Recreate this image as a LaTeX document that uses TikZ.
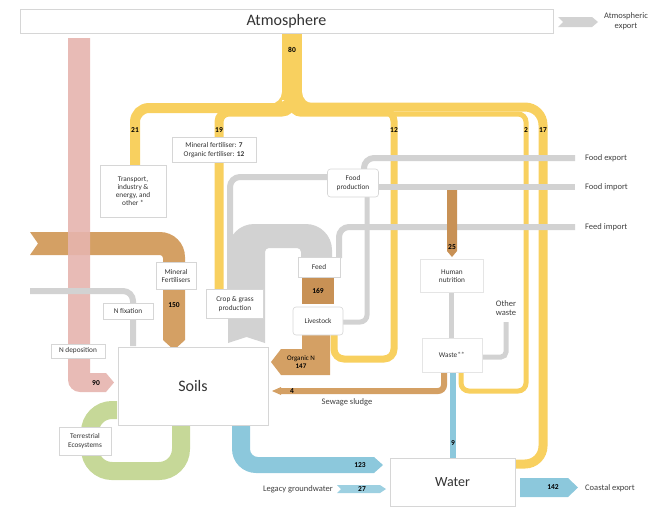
\documentclass[tikz,border=0pt]{standalone}
\usepackage{fontspec}
\setmainfont{Carlito}
\definecolor{yellowc}{RGB}{248,208,95}
\definecolor{brownc}{RGB}{212,160,100}
\definecolor{browndk}{RGB}{200,145,85}
\definecolor{pinkc}{RGB}{230,180,174}
\definecolor{grayc}{RGB}{210,210,210}
\definecolor{bluec}{RGB}{140,200,220}
\definecolor{greenc}{RGB}{198,216,152}
\begin{document}
\begin{tikzpicture}[x=1pt,y=-1pt,
  box/.style={draw=black!16, fill=white, line width=0.6pt, font=\fontsize{7.3}{8.2}\selectfont, align=center, inner sep=1.5pt, text=black!80},
  num/.style={font=\bfseries\fontsize{7.5}{8}\selectfont, inner sep=0.5pt},
  lbl/.style={font=\fontsize{8.5}{9.5}\selectfont, align=center, text=black!75, inner sep=1pt},
]
\useasboundingbox (0,0) rectangle (659,507);

% ---------- yellow (atmosphere exchanges)
\fill[yellowc] (282,33) rectangle (302,100);
\fill[yellowc] (282,92) arc[start angle=0,end angle=90,radius=12] -- (282,104) -- cycle;
\fill[yellowc] (302,92) arc[start angle=180,end angle=90,radius=12] -- (302,104) -- cycle;
\draw[yellowc, line width=10, rounded corners=14] (292,60) -- (292,108) -- (135,108) -- (135,168);
\draw[yellowc, line width=9, rounded corners=10] (292,60) -- (292,112) -- (219,112) -- (219,291);
\draw[yellowc, line width=7, rounded corners=10] (292,60) -- (292,111) -- (394,111) -- (394,359) -- (334,359) -- (334,335);
\draw[yellowc, line width=5, rounded corners=8] (292,60) -- (292,114) -- (526,114) -- (526,391) -- (461,391) -- (461,372);
\draw[yellowc, line width=9, rounded corners=18] (292,60) -- (292,107) -- (543,107) -- (543,464) -- (515,464);

% ---------- brown (mineral fertilisers)
\fill[brownc] (30,232) -- (160,232) arc[start angle=270,end angle=360,radius=25] -- (185,340) -- (174,350) -- (163,340) -- (163,258) arc[start angle=0,end angle=-90,radius=3] -- (30,255) -- (38,243.5) -- cycle;

% ---------- pink (N deposition)
\fill[pinkc, opacity=0.9] (68,38) -- (90,38) -- (90,373) -- (106,373) -- (114,382.5) -- (106,392) {[rounded corners=12] -- (68,392) -- (68,360)} -- cycle;

% ---------- gray flows
\draw[grayc, line width=6, rounded corners=10] (30,291) -- (133,291) -- (133,346);
\draw[grayc, line width=6, rounded corners=10] (230,292) -- (230,177) -- (328,177);
\fill[grayc] (228,343) -- (228,250) arc[start angle=180,end angle=270,radius=26] -- (306,224) arc[start angle=270,end angle=360,radius=26] -- (332,258) -- (301,258) -- (301,252) arc[start angle=0,end angle=-90,radius=4] -- (269,248) arc[start angle=270,end angle=180,radius=4] -- (265,343) -- (246.5,337) -- cycle;
\draw[grayc, line width=6, rounded corners=10] (339,258) -- (339,227) -- (575,227);
\draw[grayc, line width=6] (378,187) -- (575,187);
\draw[grayc, line width=6, rounded corners=10] (575,158) -- (364,158) -- (364,171);
\draw[grayc, line width=5, rounded corners=7] (367,197) -- (367,322) -- (343,322);
\draw[grayc, line width=5] (451,293) -- (451,338);
\draw[grayc, line width=5, rounded corners=5] (506,322) -- (506,357) -- (482,357);
\fill[grayc] (558,17) -- (592,17) -- (598,22) -- (592,27) -- (558,27) -- (563,22) -- cycle;

% ---------- brown food flows
\fill[browndk] (447,190) -- (457,190) -- (457,251) -- (452,257) -- (447,251) -- cycle;
\fill[browndk] (302,278) rectangle (334,304);
\fill[brownc] (302,334) -- (330,334) -- (330,375) -- (281,375) -- (271,362) -- (281,349) -- (302,349) -- cycle;
\draw[brownc, line width=6, rounded corners=6] (444,372) -- (444,391) -- (280,391);
\fill[brownc] (281,387) -- (272,391) -- (281,395) -- cycle;

% ---------- green (terrestrial ecosystems)
\draw[greenc, line width=18, rounded corners=22] (117,410) -- (90,410) -- (90,471) -- (181,471) -- (181,424);

% ---------- blue (water)
\fill[bluec] (232,425) -- (250,425) -- (250,449) arc[start angle=180,end angle=90,radius=8] -- (374,457) -- (383,465) -- (374,473) -- (256,473) arc[start angle=90,end angle=180,radius=24] -- cycle;
\draw[bluec, line width=6] (453,372) -- (453,458);
\fill[bluec!85] (337,485) -- (380,485) -- (386,489) -- (380,493) -- (337,493) -- (341,489) -- cycle;
\fill[bluec] (520,478) -- (568,478) -- (578,487.5) -- (568,497) -- (520,497) -- cycle;

% ---------- boxes
\node[box, minimum width=533pt, minimum height=24pt, font=\fontsize{16}{17}\selectfont] (atm) at (286.5,21) {Atmosphere};
\node[box, minimum width=150pt, minimum height=78pt, font=\fontsize{16}{17}\selectfont] (soils) at (193,386) {Soils};
\node[box, minimum width=125pt, minimum height=48pt, font=\fontsize{14}{15}\selectfont] (water) at (452.5,482) {Water};
\node[box, minimum width=66pt, minimum height=52pt] (transport) at (133,191) {Transport,\\industry \&\\energy, and\\other *};
\node[box, minimum width=84pt, minimum height=25pt] (fert) at (214,150) {Mineral fertiliser: \textbf{7}\\Organic fertiliser: \textbf{12}};
\node[box, minimum width=40pt, minimum height=27pt, inner sep=1pt] (minfert) at (176,276) {Mineral\\Fertilisers};
\node[box, minimum width=50pt, minimum height=16pt] (nfix) at (128,311) {N fixation};
\node[box, minimum width=54pt, minimum height=14pt] (ndep) at (78,351) {N deposition};
\node[box, minimum width=57pt, minimum height=29pt] (crop) at (235,304) {Crop \& grass\\production};
\node[box, minimum width=51pt, minimum height=28pt, rounded corners=3pt] (foodprod) at (353,183) {Food\\production};
\node[box, minimum width=42pt, minimum height=20pt] (feed) at (319,267) {Feed};
\node[box, minimum width=50pt, minimum height=28pt, rounded corners=3pt] (livestock) at (318,321) {Livestock};
\node[box, minimum width=63pt, minimum height=33pt, draw=black!10] (human) at (452,276) {Human\\nutrition};
\node[box, minimum width=60pt, minimum height=34pt, draw=black!10] (waste) at (452,355) {Waste$^{**}$};
\node[box, minimum width=52pt, minimum height=28pt] (terr) at (85,441) {Terrestrial\\Ecosystems};

% ---------- numbers
\node[num] (n80) at (292,50) {80};
\node[num] (n21) at (135,130) {21};
\node[num] (n19) at (219,130) {19};
\node[num] (n12) at (394,130) {12};
\node[num] (n2) at (526,130) {2};
\node[num] (n17) at (543,130) {17};
\node[num] (n150) at (174,305) {150};
\node[num] (n169) at (318,291) {169};
\node[num] (n25) at (452,247) {25};
\node[num] (n90) at (96,383) {90};
\node[num] (n4) at (292,391) {4};
\node[num] (n9) at (453,443) {9};
\node[num] (n123) at (360,465) {123};
\node[num] (n27) at (362,489) {27};
\node[num] (n142) at (553,487.5) {142};
\node[font=\fontsize{7}{7.8}\selectfont, align=center, inner sep=0pt] (orgn) at (301,362) {Organic N\\\textbf{147}};

% ---------- free labels
\node[lbl] (atmexp) at (626,21) {Atmospheric\\export};
\node[lbl, anchor=west] (foodexp) at (584,158) {Food export};
\node[lbl, anchor=west] (foodimp) at (584,187) {Food import};
\node[lbl, anchor=west] (feedimp) at (584,227) {Feed import};
\node[lbl] (otherw) at (506,308) {Other\\waste};
\node[lbl] (sewage) at (347,402) {Sewage sludge};
\node[lbl, anchor=east] (legacy) at (334,489) {Legacy groundwater};
\node[lbl, anchor=west] (coastal) at (584,488) {Coastal export};
\end{tikzpicture}
\end{document}
